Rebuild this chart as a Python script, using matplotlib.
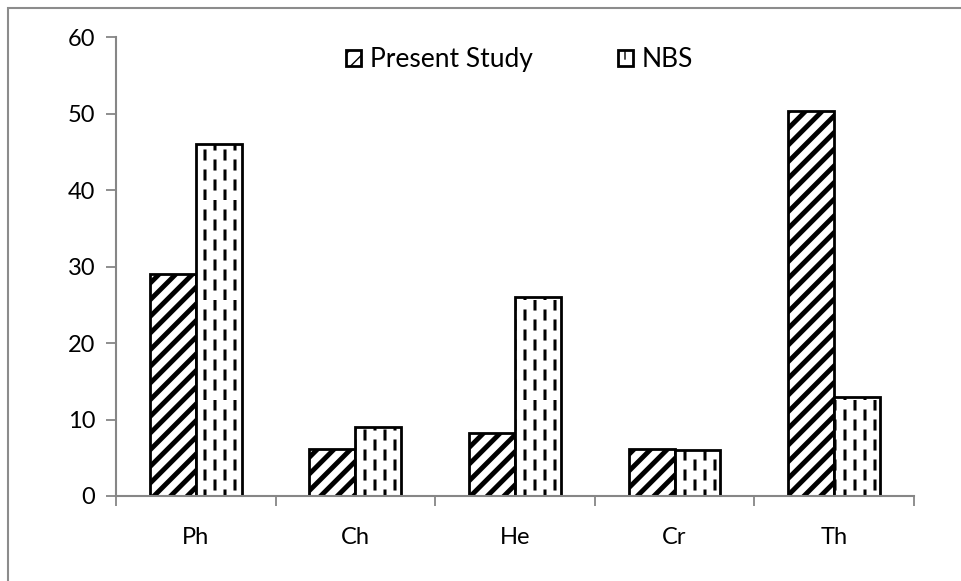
import numpy as np
import matplotlib
matplotlib.use('Agg')
import matplotlib.pyplot as plt
import matplotlib.hatch as mhatch
from matplotlib.path import Path
from matplotlib.patches import Rectangle

categories = ['Ph', 'Ch', 'He', 'Cr', 'Th']
present_study = [29.0, 6.2, 8.3, 6.2, 50.3]
nbs = [46.0, 9.0, 26.0, 6.0, 13.0]
series_names = ['Present Study', 'NBS']
y_ticks = [0, 10, 20, 30, 40, 50, 60]


class DashedVerticalHatch(mhatch.HatchPatternBase):
    # '|' drawn as staggered vertical dashes (Excel "dashed vertical" fill)
    def __init__(self, hatch, density):
        self.num_lines = int(hatch.count('|') * 10)
        self.num_dashes = 5
        self.num_vertices = self.num_lines * self.num_dashes * 2

    def set_vertices_and_codes(self, vertices, codes):
        k = 0
        for i in range(self.num_lines):
            x = (i + 0.5) / self.num_lines
            offset = 0.5 if i % 2 else 0.0
            for j in range(self.num_dashes):
                y0 = (j + offset + 0.05) / self.num_dashes
                y1 = y0 + 0.4 / self.num_dashes
                vertices[k] = (x, y0)
                vertices[k + 1] = (x, y1)
                codes[k] = Path.MOVETO
                codes[k + 1] = Path.LINETO
                k += 2


mhatch._hatch_types = [DashedVerticalHatch if t is mhatch.VerticalHatch else t
                       for t in mhatch._hatch_types]

plt.rcParams['font.family'] = ['Lato', 'DejaVu Sans']


def main():
    fig = plt.figure(figsize=(9.61, 5.81), dpi=100)
    ax = fig.add_axes([0.1207, 0.1463, 0.951 - 0.1207, 0.9363 - 0.1463])

    # chart border (only left/top visible in the original)
    fig.add_artist(Rectangle((7.5 / 961, -0.2), 1.5, 1.2 - 7.5 / 581,
                             transform=fig.transFigure, fill=False,
                             edgecolor='#8c8c8c', linewidth=1.5))

    x = np.arange(len(categories))
    w = 0.288
    with plt.rc_context({'hatch.linewidth': 3.5}):
        ax.bar(x - w / 2, present_study, w, color='white', edgecolor='black',
               linewidth=2, hatch='//', label=series_names[0])
    with plt.rc_context({'hatch.linewidth': 2.2}):
        ax.bar(x + w / 2, nbs, w, color='white', edgecolor='black',
               linewidth=2, hatch='|', label=series_names[1])

    ax.set_xlim(-0.5, len(categories) - 0.5)
    ax.set_ylim(0, 60)
    ax.set_yticks(y_ticks)
    ax.set_xticks(x)
    ax.set_xticklabels(categories)
    ax.set_xticks(np.arange(len(categories) + 1) - 0.5, minor=True)
    ax.tick_params(axis='x', which='major', length=0, pad=22, labelsize=17)
    ax.tick_params(axis='x', which='minor', length=7, width=1.3, color='#868686')
    ax.tick_params(axis='y', length=7, width=1.3, color='#868686', pad=8,
                   labelsize=17)

    for s in ['top', 'right']:
        ax.spines[s].set_visible(False)
    for s in ['left', 'bottom']:
        ax.spines[s].set_color('#868686')
        ax.spines[s].set_linewidth(1.5)

    ax.legend(loc='center', bbox_to_anchor=(0.506, 0.95), ncol=2, frameon=False,
              fontsize=19, handlelength=0.55, handleheight=0.55,
              handletextpad=0.34, columnspacing=3.25)

    fig.savefig('out.png', dpi=100)


if __name__ == '__main__':
    main()
